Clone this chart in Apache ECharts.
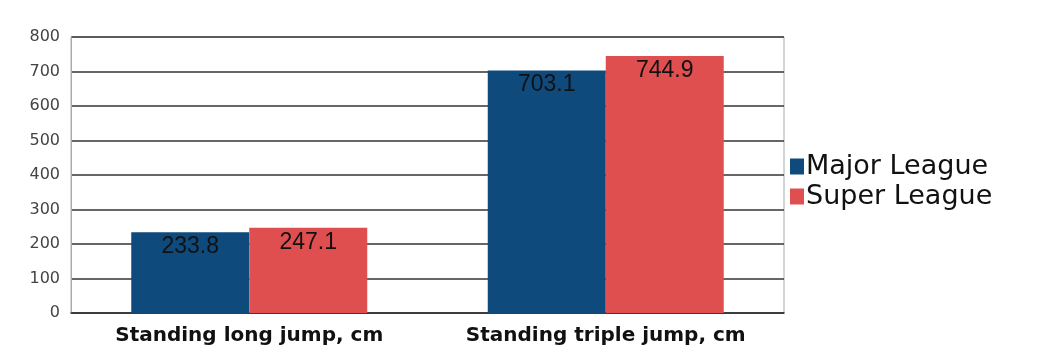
<!DOCTYPE html>
<html><head><meta charset="utf-8">
<script src="https://cdn.jsdelivr.net/npm/echarts@6/dist/echarts.min.js"></script>
<style>html,body{margin:0;padding:0;background:#fff}#c{width:1041px;height:363px}</style>
</head><body><div id="c"></div>
<script>
const categories = ["Standing long jump, cm", "Standing triple jump, cm"];
const majorLeague = [233.8, 703.1];
const superLeague = [247.1, 744.9];
const yTicks = [0, 100, 200, 300, 400, 500, 600, 700, 800];

const chart = echarts.init(document.getElementById('c'), null, {renderer: 'canvas'});
const label = {
  show: true, position: 'insideTop', distance: 3, color: '#111',
  fontFamily: 'Liberation Sans', fontSize: 23,
  formatter: p => p.value.toFixed(1)
};
chart.setOption({
  animation: false,
  backgroundColor: '#fff',
  grid: {left: 71, right: 257, top: 37, bottom: 50, show: true, borderColor: '#aaa', borderWidth: 1},
  legend: {
    orient: 'vertical', left: 785, top: 148, itemWidth: 14, itemHeight: 16, itemGap: 3,
    icon: 'rect',
    textStyle: {fontFamily: 'DejaVu Sans', fontSize: 27, color: '#111', padding: [0,0,0,-3]},
    data: ['Major League', 'Super League']
  },
  xAxis: {
    type: 'category', data: categories,
    axisLine: {lineStyle: {color: '#333', width: 1.5}},
    axisTick: {show: false},
    axisLabel: {interval: 0, fontFamily: 'DejaVu Sans', fontWeight: 'bold', fontSize: 20, color: '#111', margin: 13}
  },
  yAxis: {
    type: 'value', min: yTicks[0], max: yTicks[yTicks.length-1], interval: 100,
    axisLine: {show: true, lineStyle: {color: '#aaa'}},
    axisTick: {show: false},
    splitLine: {lineStyle: {color: '#333', width: 1.5}},
    axisLabel: {fontFamily: 'DejaVu Sans', fontSize: 16, color: '#444', margin: 11}
  },
  series: [
    {name: 'Major League', type: 'bar', data: majorLeague, barWidth: 118, barGap: '0%',
     itemStyle: {color: '#0f4a7d'}, label: label},
    {name: 'Super League', type: 'bar', data: superLeague, barWidth: 118, barGap: '0%',
     itemStyle: {color: '#e04f4f'}, label: label}
  ]
});
</script></body></html>
